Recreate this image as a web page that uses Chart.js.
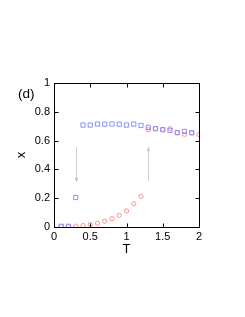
<!DOCTYPE html>
<html>
<head>
<meta charset="utf-8">
<script src="https://cdn.jsdelivr.net/npm/chart.js@4"></script>
<style>
  html, body { margin: 0; padding: 0; background: #fff; }
  #wrap { width: 245px; height: 317px; }
</style>
</head>
<body>
<div id="wrap"><canvas id="c"></canvas></div>
<script>
// temperatura e fração x (quadrados = resfriamento, círculos = aquecimento)
var T_AZUL = [0.1, 0.2, 0.3, 0.4, 0.5, 0.6, 0.7, 0.8, 0.9, 1.0, 1.1, 1.2, 1.3, 1.4, 1.5, 1.6, 1.7, 1.8, 1.9];
var X_AZUL = [0.005, 0.005, 0.205, 0.708, 0.708, 0.715, 0.714, 0.715, 0.714, 0.708, 0.715, 0.705, 0.692, 0.683, 0.676, 0.671, 0.655, 0.664, 0.655];

var T_VERM = [0.1, 0.2, 0.3, 0.4, 0.5, 0.6, 0.7, 0.8, 0.9, 1.0, 1.1, 1.2, 1.3, 1.4, 1.5, 1.6, 1.7, 1.8, 1.9, 2.0];
var X_VERM = [0.003, 0.003, 0.006, 0.01, 0.017, 0.026, 0.04, 0.058, 0.081, 0.111, 0.162, 0.213, 0.676, 0.683, 0.676, 0.683, 0.655, 0.644, 0.653, 0.641];

// setas cinzas (histerese)
var SETA_T = [0.3, 1.3];
var SETA_DE = [0.556, 0.32];
var SETA_ATE = [0.313, 0.556];

var TICKS_X = [0, 0.5, 1, 1.5, 2];
var TICKS_Y = [0, 0.2, 0.4, 0.6, 0.8, 1];

function pontos(ts, xs) {
  return ts.map(function (t, i) { return { x: t, y: xs[i] }; });
}

var FONTE = "'Liberation Sans', Arial, sans-serif";

// moldura, ticks para dentro, setas e rótulo "(d)"
var extras = {
  id: "extras",
  afterDatasetsDraw: function (chart) {
    var ctx = chart.ctx, a = chart.chartArea;
    var sx = chart.scales.x, sy = chart.scales.y;
    var i, p;
    ctx.save();

    // setas
    ctx.strokeStyle = "#cfcfcf";
    ctx.fillStyle = "#bdbdbd";
    ctx.lineWidth = 1;
    for (i = 0; i < SETA_T.length; i++) {
      var px = Math.round(sx.getPixelForValue(SETA_T[i])) + 0.5;
      var y0 = sy.getPixelForValue(SETA_DE[i]);
      var y1 = sy.getPixelForValue(SETA_ATE[i]);
      var dir = y1 > y0 ? 1 : -1;
      ctx.beginPath();
      ctx.moveTo(px, y0);
      ctx.lineTo(px, y1);
      ctx.stroke();
      ctx.beginPath();
      ctx.moveTo(px, y1);
      ctx.lineTo(px - 1.6, y1 - dir * 4);
      ctx.lineTo(px + 1.6, y1 - dir * 4);
      ctx.closePath();
      ctx.fill();
    }

    // moldura
    ctx.strokeStyle = "#000";
    ctx.lineWidth = 1;
    var l = Math.round(a.left) + 0.5, r = Math.round(a.right) + 0.5;
    var t = Math.round(a.top) + 0.5, b = Math.round(a.bottom) + 0.5;
    ctx.strokeRect(l, t, r - l, b - t);

    ctx.beginPath();
    TICKS_X.forEach(function (v) {
      p = Math.round(sx.getPixelForValue(v)) + 0.5;
      ctx.moveTo(p, b); ctx.lineTo(p, b - 4);
      ctx.moveTo(p, t); ctx.lineTo(p, t + 4);
    });
    TICKS_Y.forEach(function (v) {
      p = Math.round(sy.getPixelForValue(v)) + 0.5;
      ctx.moveTo(l, p); ctx.lineTo(l + 4, p);
      ctx.moveTo(r, p); ctx.lineTo(r - 4, p);
    });
    ctx.stroke();

    // rótulo do painel
    ctx.fillStyle = "#000";
    ctx.font = "13.5px " + FONTE;
    ctx.textAlign = "left";
    ctx.textBaseline = "middle";
    ctx.fillText("(d)", a.left - 36, a.top + 11);
    ctx.restore();
  }
};

new Chart(document.getElementById("c"), {
  type: "scatter",
  data: {
    datasets: [
      {
        label: "resfriamento",
        data: pontos(T_AZUL, X_AZUL),
        pointStyle: "rect",
        pointRadius: 3,
        borderColor: "#8585ff",
        backgroundColor: "rgba(0,0,0,0)",
        borderWidth: 0.9
      },
      {
        label: "aquecimento",
        data: pontos(T_VERM, X_VERM),
        pointStyle: "circle",
        pointRadius: 2.1,
        borderColor: "#ff8585",
        backgroundColor: "rgba(0,0,0,0)",
        borderWidth: 0.9
      }
    ]
  },
  options: {
    responsive: true,
    maintainAspectRatio: false,
    animation: false,
    layout: { padding: { left: 0, right: 46, top: 83, bottom: 60 } },
    plugins: { legend: { display: false }, tooltip: { enabled: false } },
    scales: {
      x: {
        type: "linear",
        min: 0, max: 2,
        afterBuildTicks: function (s) { s.ticks = TICKS_X.map(function (v) { return { value: v }; }); },
        afterFit: function (s) { s.height = 30; },
        grid: { display: false, drawTicks: false },
        border: { display: false },
        ticks: { color: "#000", padding: 3, font: { size: 11, family: FONTE },
          callback: function (v) { return String(v); } },
        title: { display: true, text: "T", color: "#000", font: { size: 13, family: FONTE }, padding: 0 }
      },
      y: {
        type: "linear",
        min: 0, max: 1,
        afterBuildTicks: function (s) { s.ticks = TICKS_Y.map(function (v) { return { value: v }; }); },
        afterFit: function (s) { s.width = 54; },
        grid: { display: false, drawTicks: false },
        border: { display: false },
        ticks: { color: "#000", padding: 4, font: { size: 11, family: FONTE },
          callback: function (v) { return String(v); } },
        title: { display: true, text: "x", color: "#000", font: { size: 13, family: FONTE }, padding: { top: 14, bottom: 0 } }
      }
    }
  },
  plugins: [extras]
});
</script>
</body>
</html>
